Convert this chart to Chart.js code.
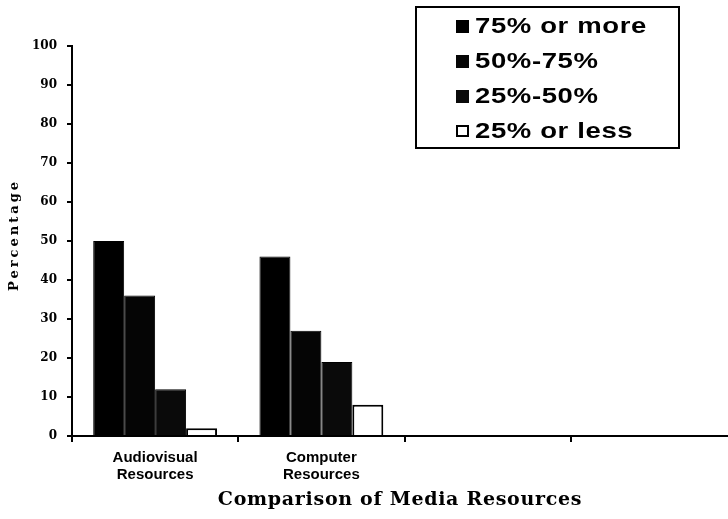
<!DOCTYPE html>
<html>
<head>
<meta charset="utf-8">
<title>Comparison of Media Resources</title>
<script src="https://cdn.jsdelivr.net/npm/chart.js@4.4.1/dist/chart.umd.min.js"></script>
<style>
  html, body { margin: 0; padding: 0; background: #fff; overflow: hidden; }
  #wrap { width: 728px; height: 519px; position: relative; overflow: hidden; }
</style>
</head>
<body>
<div id="wrap"><canvas id="c" width="737" height="519"></canvas></div>
<script>
// Categories along the x axis (the last two slots are left empty)
const categories = [['Audiovisual', 'Resources'], ['Computer', 'Resources'], '', ''];

// Share-of-use bands
const seriesNames = ['75% or more', '50%-75%', '25%-50%', '25% or less'];

// Percentage of respondents in each band, per resource type
const share75Plus  = [50, 46, null, null];
const share50to75  = [36, 27, null, null];
const share25to50  = [12, 19, null, null];
const share25Less  = [2, 8, null, null];

// Y axis tick values
const yTicks = [0, 10, 20, 30, 40, 50, 60, 70, 80, 90, 100];

const axisTitleX = 'Comparison of Media Resources';
const axisTitleY = 'Percentage';

const fills = ['#000000', '#050505', '#0a0a0a', '#ffffff'];
const seriesValues = [share75Plus, share50to75, share25to50, share25Less];

// Boxed legend in the upper right, plus the spaced-out axis titles
const decorations = {
  id: 'decorations',
  afterDraw(chart) {
    const ctx = chart.ctx;
    ctx.save();

    // legend frame
    ctx.lineWidth = 2;
    ctx.strokeStyle = '#000';
    ctx.strokeRect(416, 7, 263, 141);

    chart.data.datasets.forEach((ds, i) => {
      const base = 33 + i * 35;
      if (ds.backgroundColor === '#ffffff') {
        ctx.fillStyle = '#fff';
        ctx.fillRect(456, base - 13, 13, 12);
        ctx.lineWidth = 2;
        ctx.strokeRect(457, base - 12, 11, 10);
      } else {
        ctx.fillStyle = ds.backgroundColor;
        ctx.fillRect(456, base - 13, 13, 13);
      }
      // wide bold sans label
      ctx.save();
      ctx.translate(475, base);
      ctx.scale(1.25, 1);
      ctx.font = 'bold 22px "Liberation Sans", Arial, sans-serif';
      ctx.letterSpacing = '0.5px';
      ctx.textAlign = 'left';
      ctx.textBaseline = 'alphabetic';
      ctx.fillStyle = '#000';
      ctx.fillText(ds.label, 0, 0);
      ctx.restore();
    });

    // x axis title
    ctx.font = 'bold 19px "DejaVu Serif", serif';
    ctx.letterSpacing = '0.7px';
    ctx.textAlign = 'center';
    ctx.textBaseline = 'alphabetic';
    ctx.fillStyle = '#000';
    ctx.fillText(axisTitleX, 400, 505);

    // y axis title
    ctx.translate(15, 235);
    ctx.rotate(-Math.PI / 2);
    ctx.font = 'bold 13px "DejaVu Serif", serif';
    ctx.letterSpacing = '3px';
    ctx.textAlign = 'center';
    ctx.textBaseline = 'middle';
    ctx.fillText(axisTitleY, 0, 0);

    ctx.restore();
  }
};

new Chart(document.getElementById('c'), {
  type: 'bar',
  data: {
    labels: categories,
    datasets: seriesNames.map((name, i) => ({
      label: name,
      data: seriesValues[i],
      backgroundColor: fills[i],
      borderColor: '#000',
      borderWidth: i === 3 ? 2 : 1,
      categoryPercentage: 0.745,
      barPercentage: 1.0
    }))
  },
  options: {
    responsive: false,
    animation: false,
    devicePixelRatio: 1,
    layout: { padding: { top: 46, right: 0, left: 0, bottom: 0 } },
    plugins: {
      legend: { display: false },
      tooltip: { enabled: false }
    },
    scales: {
      x: {
        grid: { display: true, drawOnChartArea: false, offset: true, color: '#000', lineWidth: 2, tickLength: 6 },
        border: { color: '#000', width: 2 },
        ticks: {
          color: '#000',
          font: { family: '"Liberation Sans", Arial, sans-serif', weight: 'bold', size: 15, lineHeight: 1.1 },
          padding: 8,
          maxRotation: 0,
          autoSkip: false
        },
        title: { display: false },
        afterFit(scale) { scale.height = 83; }
      },
      y: {
        min: 0,
        max: 100,
        afterBuildTicks(scale) { scale.ticks = yTicks.map(v => ({ value: v })); },
        grid: { drawOnChartArea: false, color: '#000', lineWidth: 2, tickLength: 5 },
        border: { color: '#000', width: 2 },
        ticks: {
          color: '#000',
          font: { family: '"DejaVu Serif", serif', weight: 'bold', size: 12 },
          padding: 10
        },
        afterFit(scale) { scale.width = 72; }
      }
    }
  },
  plugins: [decorations]
});
</script>
</body>
</html>
